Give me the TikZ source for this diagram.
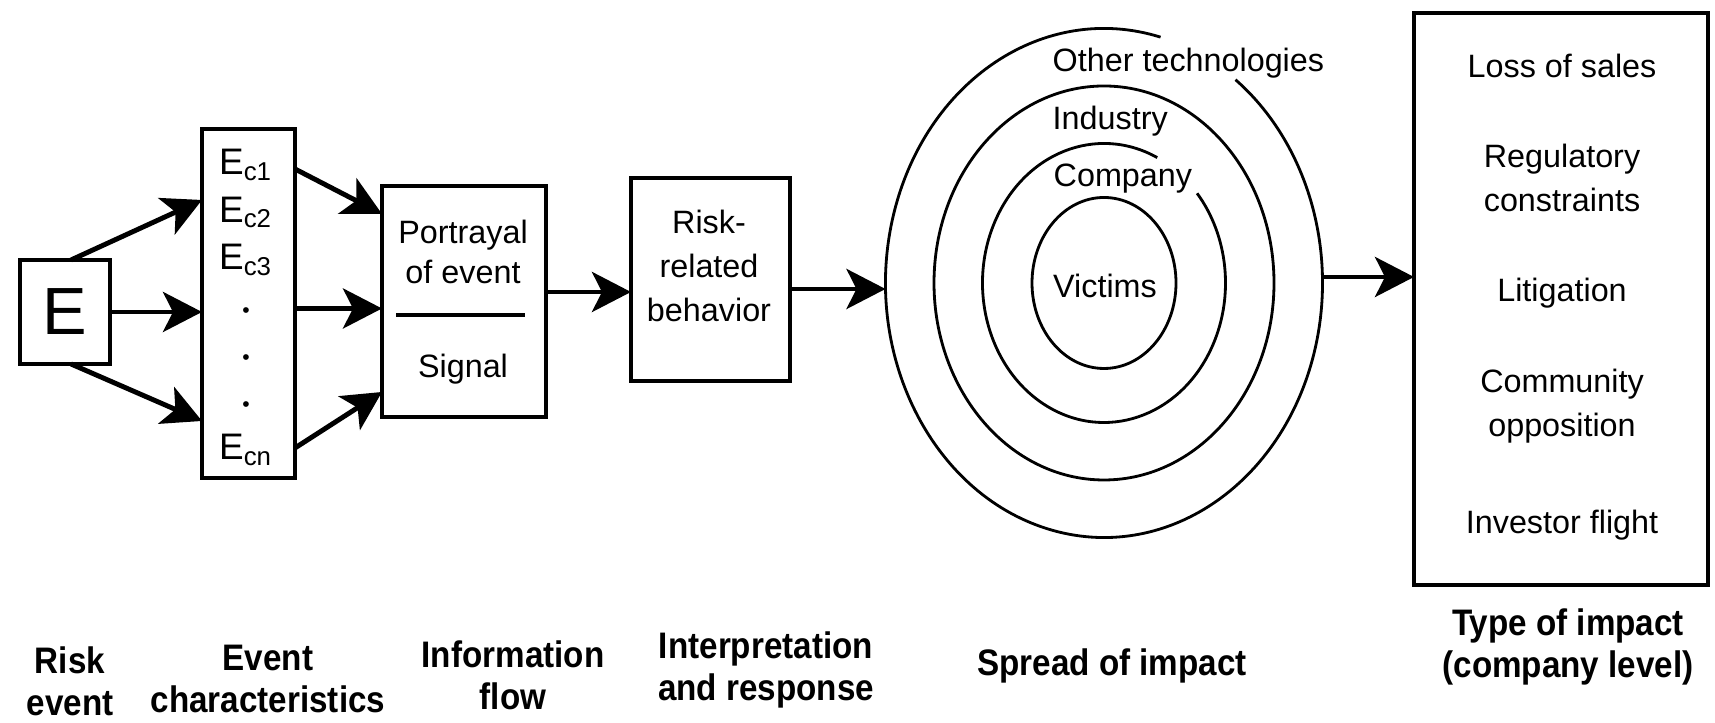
\documentclass[tikz,border=0pt]{standalone}
\usepackage{fontspec}
\setmainfont{Liberation Sans}
\newfontfamily\stagefont[FakeStretch=0.9]{Liberation Sans}
\usetikzlibrary{arrows.meta, positioning}

\begin{document}
\begin{tikzpicture}[
  box/.style={draw, line width=1pt, inner sep=0pt, outer sep=0pt},
  item/.style={font=\fontsize{9.2}{12.5}\selectfont, align=center, inner sep=0pt},
  stage/.style={font=\stagefont\bfseries\fontsize{10.5}{11.9}\selectfont, align=center, inner sep=0pt},
  ring/.style={line width=0.8pt},
  arrow/.style={-{Stealth[length=3.9mm, width=4mm, inset=1mm]}, line width=1.4pt}
]
  \useasboundingbox (0,0) rectangle (17.15,7.23);

  \node[box, minimum width=0.90cm, minimum height=1.04cm, font=\fontsize{19}{22}\selectfont] (ebox) at (0.65,4.11) {E};
  \node[box, minimum width=0.93cm, minimum height=3.49cm] (ecbox)   at (2.485,4.195) {};
  \node[box, minimum width=1.64cm, minimum height=2.31cm] (portbox) at (4.64,4.215) {};
  \node[box, minimum width=1.59cm, minimum height=2.03cm] (riskbox) at (7.105,4.435) {};
  \node[box, minimum width=2.94cm, minimum height=5.72cm] (typebox) at (15.61,4.24) {};

  \foreach \lab/\y/\nm in {E\textsubscript{c1}/5.58/econe, E\textsubscript{c2}/5.105/ectwo,
      E\textsubscript{c3}/4.63/ecthree, {\fontsize{6}{7}\selectfont\textbullet}/4.10/dotone,
      {\fontsize{6}{7}\selectfont\textbullet}/3.63/dottwo, {\fontsize{6}{7}\selectfont\textbullet}/3.16/dotthree,
      E\textsubscript{cn}/2.73/ecn}
    \node[item, font=\fontsize{10.5}{12}\selectfont] (\nm) at (2.46,\y) {\lab};

  \node[item] (portray) at (4.63,4.71) {Portrayal\\[-1pt]of event};
  \draw[line width=1pt] ([shift={(0.14,-0.135)}]portbox.west) -- ([shift={(-0.21,-0.135)}]portbox.east);
  \node[item] (signal) at (4.63,3.54) {Signal};

  \node[item] (risktxt) at (7.09,4.57) {Risk-\\related\\behavior};

  \coordinate (ctr) at (11.04,4.40);
  \draw[ring] ([shift={(75:2.185 and 2.545)}]ctr) arc[start angle=75, end angle=413, x radius=2.185, y radius=2.545];
  \draw[ring] (ctr) ellipse[x radius=1.70, y radius=1.97];
  \draw[ring] ([shift={(64:1.215 and 1.395)}]ctr) arc[start angle=64, end angle=400, x radius=1.215, y radius=1.395];
  \draw[ring] (ctr) ellipse[x radius=0.72, y radius=0.855];
  \coordinate (spreadL) at (8.855,4.34);
  \coordinate (spreadR) at (13.225,4.46);

  \node[item, anchor=base west] (othertech) at (10.52,6.51) {Other technologies};
  \node[item, anchor=base west] (industry)  at (10.52,5.93) {Industry};
  \node[item, anchor=base west] (company)   at (10.53,5.36) {Company};
  \node[item, anchor=base]      (victims)   at (11.05,4.25) {Victims};

  \node[item] (sales)    at (15.62,6.57) {Loss of sales};
  \node[item] (regul)    at (15.62,5.45) {Regulatory\\constraints};
  \node[item] (litig)    at (15.62,4.30) {Litigation};
  \node[item] (commun)   at (15.62,3.17) {Community\\opposition};
  \node[item] (investor) at (15.62,1.98) {Investor flight};

  \node[stage] (riskev)    at (0.70,0.42)  {Risk\\event};
  \node[stage] (evchar)    at (2.68,0.44)  {Event\\characteristics};
  \node[stage] (infoflow)  at (5.13,0.48)  {Information\\flow};
  \node[stage] (interp)    at (7.66,0.53)  {Interpretation\\and response};
  \node[stage] (spreadlab) at (11.12,0.57) {Spread of impact};
  \node[stage] (typelab)   at (15.68,0.76) {Type of impact\\(company level)};

  \draw[arrow] ([xshift=0.06cm]ebox.north) -- ([yshift=1.035cm]ecbox.west);
  \draw[arrow] (ebox.east) -- (ebox.east -| ecbox.west);
  \draw[arrow] ([xshift=0.06cm]ebox.south) -- ([yshift=-1.175cm]ecbox.west);
  \draw[arrow] ([yshift=1.345cm]ecbox.east) -- ([yshift=0.875cm]portbox.west);
  \draw[arrow] ([yshift=-0.05cm]ecbox.east) -- ([yshift=-0.05cm]ecbox.east -| portbox.west);
  \draw[arrow] ([yshift=-1.445cm]ecbox.east) -- ([yshift=-0.905cm]portbox.west);
  \draw[arrow] ([yshift=0.095cm]portbox.east) -- ([yshift=0.095cm]portbox.east -| riskbox.west);
  \draw[arrow] ([yshift=-0.095cm]riskbox.east) -- (spreadL);
  \draw[arrow] (spreadR) -- (spreadR -| typebox.west);
\end{tikzpicture}
\end{document}
